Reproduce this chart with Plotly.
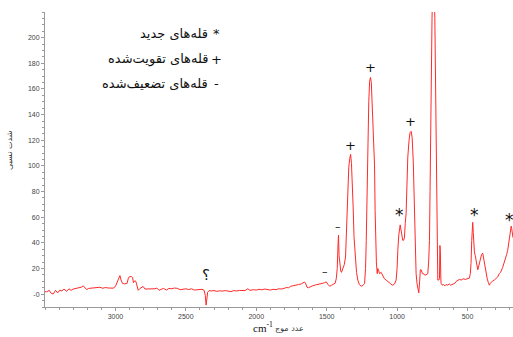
import plotly.graph_objects as go

# Spectrum: wavenumber (cm-1) and relative intensity
wavenumber = [
    3500, 3488, 3470, 3455, 3441, 3425, 3410, 3394, 3380, 3365, 3346, 3330, 3315, 3299,
    3280, 3260, 3240, 3228, 3215, 3204, 3190, 3170, 3150, 3130, 3110, 3090, 3070, 3050,
    3030, 3016, 3000, 2992, 2980, 2968, 2960, 2950, 2935, 2917, 2908, 2902, 2888, 2878,
    2872, 2862, 2855, 2845, 2838, 2825, 2810, 2803, 2790, 2780, 2760, 2740, 2720, 2706,
    2690, 2660, 2637, 2620, 2600, 2580, 2560, 2540, 2520, 2500, 2480, 2460, 2440, 2420,
    2400, 2385, 2370, 2362, 2356, 2350, 2345, 2335, 2320, 2300, 2280, 2260, 2240, 2220,
    2200, 2180, 2160, 2140, 2120, 2100, 2080, 2060, 2045, 2020, 2000, 1980, 1960, 1940,
    1920, 1900, 1880, 1860, 1840, 1820, 1800, 1787, 1770, 1755, 1740, 1720, 1700, 1680,
    1665, 1657, 1648, 1640, 1630, 1615, 1600, 1580, 1560, 1545, 1527, 1515, 1503, 1490,
    1479, 1465, 1452, 1440, 1432, 1425, 1419, 1416, 1412, 1406, 1400, 1395, 1385, 1375,
    1366, 1360, 1355, 1348, 1343, 1336, 1330, 1324, 1318, 1312, 1306, 1297, 1288, 1279,
    1268, 1255, 1243, 1231, 1224, 1219, 1214, 1208, 1201, 1195, 1189, 1183, 1176, 1168,
    1160, 1156, 1153, 1147, 1141, 1137, 1132, 1125, 1113, 1100, 1090, 1078, 1060, 1045,
    1031, 1018, 1007, 1000, 995, 988, 978, 970, 960, 954, 948, 942, 936, 930,
    924, 915, 908, 900, 893, 885, 877, 871, 865, 858, 852, 846, 840, 835,
    829, 820, 812, 806, 795, 782, 776, 770, 766, 763, 758, 752, 747, 742,
    737, 732, 728, 723, 718, 715, 711, 704, 699, 696, 693, 690, 688, 680,
    670, 660, 652, 640, 630, 620, 605, 590, 580, 570, 558, 545, 530, 515,
    500, 487, 480, 475, 470, 466, 463, 459, 455, 451, 445, 438, 432, 427,
    420, 410, 400, 392, 385, 378, 372, 368, 360, 352, 345, 338, 330, 320,
    310, 297, 285, 275, 265, 250, 240, 230, 222, 215, 208, 200, 194, 190,
    186, 182, 177,
]
intensity = [
    2.0, 1.8, 3.0, 0.5, 0.2, 3.0, 1.0, 3.2, 2.5, 4.0, 2.2, 4.2, 3.0, 4.0,
    4.5, 5.0, 5.5, 6.5, 5.0, 3.5, 4.5, 4.8, 5.0, 5.5, 5.4, 4.6, 5.2, 4.8,
    5.0, 4.7, 6.0, 8.0, 10.5, 14.5, 11.0, 8.5, 8.0, 8.5, 12.5, 13.5, 13.8, 13.0,
    9.0, 10.5, 10.0, 6.0, 3.0, 4.5, 5.5, 6.0, 4.0, 4.0, 4.5, 4.0, 4.2, 4.8,
    3.0, 4.5, 3.2, 4.5, 4.2, 4.8, 4.5, 3.5, 4.0, 4.2, 3.6, 4.2, 3.2, 3.5,
    4.0, 3.8, 3.0, -1.0, -8.5, -4.0, 1.5, 2.8, 2.5, 2.8, 2.2, 2.6, 2.4, 2.8,
    2.5, 2.0, 2.8, 2.5, 2.9, 3.0, 2.8, 4.2, 3.0, 3.5, 3.2, 3.8, 3.4, 4.0,
    3.6, 3.2, 3.8, 3.5, 4.2, 4.0, 4.6, 5.2, 5.0, 6.2, 6.5, 6.8, 7.5, 8.0,
    9.0, 9.5, 8.0, 5.5, 5.0, 6.0, 6.5, 7.2, 7.5, 7.8, 8.5, 9.0, 9.6, 7.5,
    6.2, 7.0, 8.0, 8.5, 12.0, 20.0, 40.0, 46.0, 30.0, 20.0, 18.0, 17.0, 20.0, 23.0,
    29.0, 48.0, 72.0, 90.0, 99.0, 106.0, 109.0, 102.0, 89.0, 68.0, 45.0, 29.0, 17.0, 11.0,
    7.5, 6.2, 6.8, 8.3, 20.0, 42.0, 80.0, 120.0, 150.0, 166.0, 169.0, 165.0, 148.0, 130.0,
    100.0, 65.0, 42.0, 25.0, 16.0, 20.0, 19.0, 16.0, 17.0, 14.0, 12.0, 11.0, 9.0, 8.0,
    7.0, 8.0, 11.0, 20.0, 34.0, 46.0, 54.0, 48.0, 42.0, 42.0, 44.0, 55.0, 63.0, 85.0,
    107.0, 120.0, 126.0, 127.0, 122.0, 103.0, 68.0, 40.0, 16.0, 8.0, 3.0, 1.0, 10.0, 19.0,
    19.0, 16.0, 16.0, 15.0, 15.0, 16.0, 25.0, 42.0, 80.0, 120.0, 170.0, 215.0, 240.0, 245.0,
    240.0, 215.0, 170.0, 120.0, 70.0, 42.0, 11.0, 11.0, 12.0, 38.0, 34.0, 15.0, 8.5, 7.0,
    7.5, 6.5, 7.5, 7.0, 8.0, 7.0, 8.0, 8.5, 10.0, 11.0, 11.5, 11.0, 12.0, 11.5,
    12.0, 12.5, 16.0, 24.0, 42.0, 54.0, 56.0, 48.0, 38.0, 33.0, 30.0, 24.0, 20.0, 19.0,
    22.0, 27.0, 31.0, 32.0, 27.0, 22.0, 19.0, 17.0, 12.0, 9.0, 7.0, 8.5, 9.5, 10.5,
    11.0, 12.5, 13.5, 16.0, 17.0, 21.0, 24.0, 27.0, 31.0, 34.0, 39.0, 46.0, 51.0, 53.0,
    51.0, 48.0, 44.0,
]

# Peak annotations: position (wavenumber, intensity) and symbol
peak_wn = [1330, 1189, 905, 983, 451, 203, 1420, 1510, 2354]
peak_y = [116, 177, 135, 62, 62, 58, 53, 18, 15]
peak_sym = ["+", "+", "+", "*", "*", "*", "\u2013", "\u2013", "\u061f"]
peak_size = [13, 13, 13, 17, 17, 17, 11, 11, 15]

# Key describing the symbols
key_sym = ["*", "+", "-"]
key_text = ["قله\u200cهای جدید", "قله\u200cهای تقویت\u200cشده", "قله\u200cهای تضعیف\u200cشده"]

y_ticks = [0, 20, 40, 60, 80, 100, 120, 140, 160, 180, 200]
y_ticktext = ["-0"] + [str(v) for v in y_ticks[1:]]
x_ticks = [3000, 2500, 2000, 1500, 1000, 500]

fig = go.Figure()
fig.add_trace(go.Scatter(
    x=wavenumber, y=intensity, mode="lines",
    line=dict(color="#ff2a2a", width=1),
    hoverinfo="skip", showlegend=False,
))

annotations = []
for wn, yv, s, fs in zip(peak_wn, peak_y, peak_sym, peak_size):
    annotations.append(dict(
        x=wn, y=yv, xref="x", yref="y", text=s, showarrow=False,
        font=dict(family="DejaVu Sans", size=fs, color="#111"),
        xanchor="center", yanchor="middle",
    ))

key_y_px = [33, 59, 83]
for s, t, ypx in zip(key_sym, key_text, key_y_px):
    yp = (307 - ypx) / 295
    annotations.append(dict(
        x=(210 - 45) / 468, y=yp, xref="paper", yref="paper", text=t,
        showarrow=False, xanchor="right", yanchor="middle",
        font=dict(family="DejaVu Sans", size=13, color="#111"),
    ))
    annotations.append(dict(
        x=(216 - 45) / 468, y=yp, xref="paper", yref="paper", text=s,
        showarrow=False, xanchor="center", yanchor="middle",
        font=dict(family="DejaVu Sans", size=13, color="#111"),
    ))

# Axis titles
annotations.append(dict(
    x=(263 - 45) / 468, y=(307 - 327) / 295, xref="paper", yref="paper",
    text="cm<sup>-1</sup>", showarrow=False, xanchor="center", yanchor="middle",
    font=dict(family="Liberation Serif", size=11, color="#111"),
))
annotations.append(dict(
    x=(289 - 45) / 468, y=(307 - 328) / 295, xref="paper", yref="paper",
    text="عدد موج", showarrow=False, xanchor="center", yanchor="middle",
    font=dict(family="DejaVu Sans", size=8, color="#333"),
))
annotations.append(dict(
    x=(9 - 45) / 468, y=(307 - 150) / 295, xref="paper", yref="paper",
    text="شدت نسبی", showarrow=False, textangle=-90,
    xanchor="center", yanchor="middle",
    font=dict(family="DejaVu Sans", size=8, color="#333"),
))

fig.update_layout(
    width=513, height=337,
    margin=dict(l=45, r=0, t=12, b=30),
    paper_bgcolor="white", plot_bgcolor="white",
    annotations=annotations,
    xaxis=dict(
        range=[3500, 177], showgrid=False, zeroline=False,
        showline=True, linecolor="#9a9a9a", linewidth=1,
        ticks="outside", ticklen=3, tickcolor="#9a9a9a",
        tickvals=x_ticks, ticktext=[str(v) for v in x_ticks],
        tickfont=dict(family="Liberation Sans", size=7, color="#444"),
        minor=dict(dtick=100, ticks="outside", ticklen=2, tickcolor="#9a9a9a", showgrid=False),
    ),
    yaxis=dict(
        range=[-10, 220], showgrid=False, zeroline=False,
        showline=True, linecolor="#9a9a9a", linewidth=1,
        ticks="outside", ticklen=3, tickcolor="#9a9a9a",
        tickvals=y_ticks, ticktext=y_ticktext,
        tickfont=dict(family="Liberation Sans", size=7, color="#444"),
        minor=dict(dtick=5, ticks="outside", ticklen=2, tickcolor="#9a9a9a", showgrid=False),
    ),
)

fig.write_html("out.html")
